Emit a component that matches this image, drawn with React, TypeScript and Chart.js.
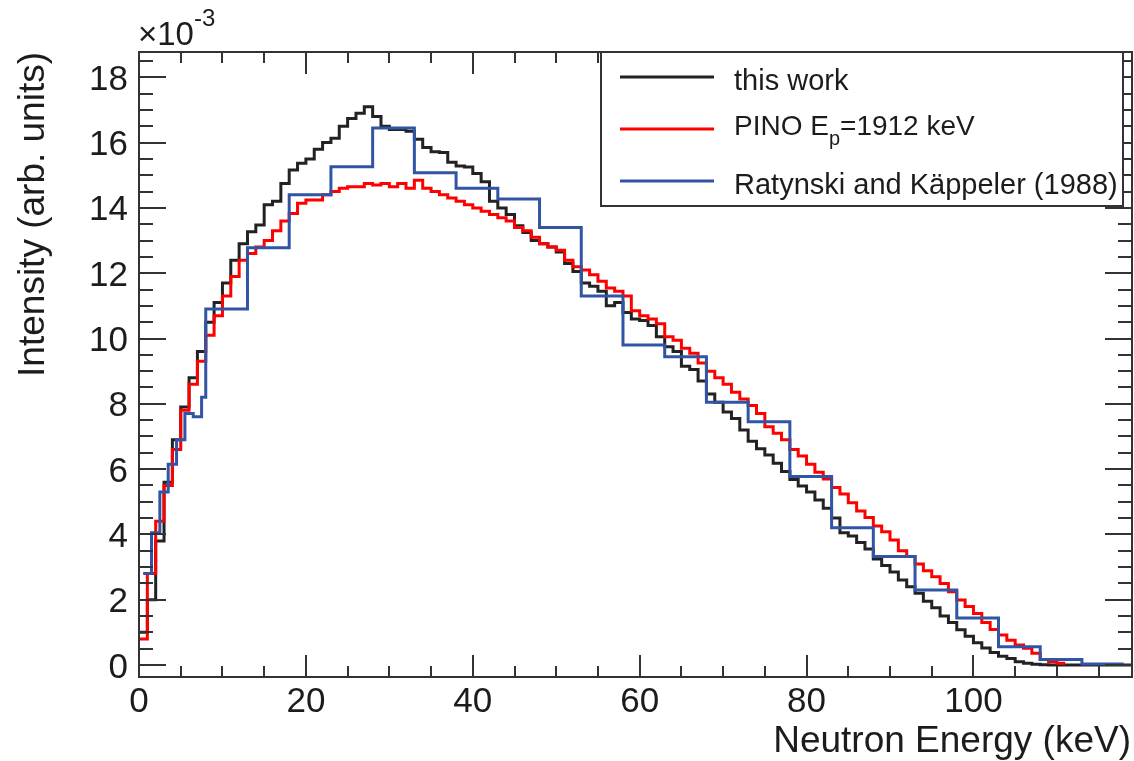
import React, { useEffect, useRef } from "react";
import { Chart, registerables } from "chart.js";

Chart.register(...registerables);

// ---------- data (×10^-3, arbitrary units) ----------
const binWidth = 1; // keV, for "this work" and PINO

const thisWorkValues = [
  1.0, 2.0, 3.8, 5.6, 6.9, 7.9, 8.8, 9.6, 10.5, 11.1,
  11.7, 12.4, 12.9, 13.27, 13.48, 14.1, 14.2, 14.75, 15.16, 15.37,
  15.5, 15.8, 16.0, 16.13, 16.5, 16.74, 16.9, 17.1, 16.8, 16.5,
  16.4, 16.4, 16.35, 16.1, 15.85, 15.72, 15.7, 15.4, 15.28, 15.25,
  15.05, 14.8, 14.2, 14.0, 13.8, 13.45, 13.25, 13.0, 12.9, 12.8,
  12.65, 12.3, 12.05, 11.7, 11.6, 11.45, 11.0, 11.1, 10.8, 10.6,
  10.55, 10.4, 10.05, 9.75, 9.6, 9.15, 9.05, 8.7, 8.3, 8.05,
  7.75, 7.55, 7.2, 6.85, 6.62, 6.43, 6.18, 5.93, 5.68, 5.48,
  5.3, 5.05, 4.8, 4.5, 4.05, 3.95, 3.75, 3.55, 3.25, 3.05,
  2.85, 2.6, 2.4, 2.2, 1.95, 1.75, 1.5, 1.3, 1.08, 0.88,
  0.68, 0.52, 0.38, 0.27, 0.2, 0.1, 0.05, 0.02, 0.01, 0,
  0, 0, 0, 0, 0, 0, 0, 0, 0,
];

const pinoValues = [
  0.8, 2.8, 4.4, 5.5, 6.6, 7.8, 8.6, 9.3, 10.1, 10.7,
  11.3, 11.9, 12.4, 12.6, 12.8, 13.0, 13.3, 13.6, 13.83, 14.14,
  14.24, 14.24, 14.4, 14.5, 14.6, 14.65, 14.65, 14.75, 14.7, 14.75,
  14.65, 14.75, 14.6, 14.85, 14.6, 14.5, 14.4, 14.3, 14.2, 14.1,
  14.0, 13.9, 13.8, 13.7, 13.6, 13.4, 13.3, 13.1, 12.9, 12.8,
  12.7, 12.4, 12.2, 12.1, 11.95, 11.75, 11.55, 11.45, 11.3, 10.85,
  10.7, 10.6, 10.45, 10.05, 9.95, 9.7, 9.55, 9.25, 9.0, 8.8,
  8.6, 8.35, 8.15, 7.95, 7.7, 7.3, 7.1, 6.9, 6.6, 6.4,
  6.15, 5.9, 5.7, 5.44, 5.24, 4.97, 4.72, 4.52, 4.26, 4.08,
  3.83, 3.5, 3.32, 3.09, 2.89, 2.7, 2.5, 2.24, 1.99, 1.79,
  1.58, 1.3, 1.09, 0.92, 0.76, 0.61, 0.51, 0.36, 0.17, 0.1,
  0.05,
];

const ratynskiEdges = [
  0.5, 1.5, 2.5, 3.5, 4.5, 5.5, 6.5, 7.5, 8,
  13, 18, 23, 28, 33, 38, 43, 48, 53, 58, 63, 68, 73, 78, 83, 88, 93, 98,
  103, 108, 113, 118,
];
const ratynskiValues = [
  2.8, 4.05, 5.3, 6.15, 6.9, 7.7, 7.6, 8.2,
  10.9, 12.78, 14.4, 15.26, 16.45, 15.08, 14.6, 14.27, 13.4, 11.3, 9.8, 9.44,
  8.05, 7.45, 5.77, 4.2, 3.32, 2.3, 1.44, 0.56, 0.17, 0.03,
];

const seriesLabels = ["this work", "PINO E", "Ratynski and Käppeler (1988)"];
const pinoSubscript = "p";
const pinoSuffix = "=1912 keV";

const xMajorTicks = [0, 20, 40, 60, 80, 100];
const xMinorStep = 5;
const yMajorTicks = [0, 2, 4, 6, 8, 10, 12, 14, 16, 18];
const yMinorStep = 0.5;
const xTitle = "Neutron Energy (keV)";
const yTitle = "Intensity (arb. units)";
const xMin = 0;
const xMax = 119;
const yMin = -0.3675;
const yMax = 18.775;

// ---------- styles ----------
const FONT = "'Liberation Sans', Arial, Helvetica, sans-serif";
const TEXT = "#1c1c1c";
const AXIS = "#333333";
const BLACK = "#222222";
const RED = "#ff0000";
const BLUE = "#3155a5";

function uniformPoints(values: number[], width: number) {
  const pts = values.map((v, i) => ({ x: i * width, y: v }));
  pts.push({ x: values.length * width, y: values[values.length - 1] });
  return pts;
}
function edgePoints(edges: number[], values: number[]) {
  const pts = values.map((v, i) => ({ x: edges[i], y: v }));
  pts.push({ x: edges[values.length], y: values[values.length - 1] });
  return pts;
}

const rootStyle = {
  id: "rootStyle",
  afterDatasetsDraw(chart: any) {
    const { ctx, chartArea: a, scales } = chart;
    const xs = scales.x;
    const ys = scales.y;
    ctx.save();
    ctx.strokeStyle = AXIS;
    ctx.lineWidth = 2;
    const seg = (x1: number, y1: number, x2: number, y2: number) => {
      ctx.beginPath();
      ctx.moveTo(x1, y1);
      ctx.lineTo(x2, y2);
      ctx.stroke();
    };
    // x ticks (bottom & top)
    for (let v = xMin; v <= xMax + 1e-9; v += xMinorStep) {
      const px = Math.round(xs.getPixelForValue(v));
      const len = xMajorTicks.includes(v) ? 22 : 11;
      seg(px, a.bottom, px, a.bottom - len);
      seg(px, a.top, px, a.top + len);
    }
    // y ticks (left & right)
    for (let v = 0; v <= yMax + 1e-9; v += yMinorStep) {
      const py = Math.round(ys.getPixelForValue(v));
      const major = yMajorTicks.includes(Math.round(v * 100) / 100);
      const len = major ? 27 : 14;
      seg(a.left, py, a.left + len, py);
      seg(a.right, py, a.right - len, py);
    }
    // frame
    ctx.strokeRect(a.left, a.top, a.right - a.left, a.bottom - a.top);

    // tick labels
    ctx.fillStyle = TEXT;
    ctx.font = `35px ${FONT}`;
    ctx.textBaseline = "alphabetic";
    ctx.textAlign = "right";
    for (const v of yMajorTicks) {
      const py = ys.getPixelForValue(v);
      ctx.fillText(String(v), a.left - 11, py + 12.5);
    }
    ctx.textAlign = "center";
    for (const v of xMajorTicks) {
      const px = xs.getPixelForValue(v);
      ctx.fillText(String(v), px, a.bottom + 35);
    }
    // exponent
    ctx.textAlign = "left";
    ctx.font = `33px ${FONT}`;
    ctx.fillText("×10", a.left - 1, 45);
    const w = ctx.measureText("×10").width;
    ctx.font = `24px ${FONT}`;
    ctx.fillText("-3", a.left - 1 + w, 26);

    // axis titles
    ctx.font = `37px ${FONT}`;
    ctx.textAlign = "right";
    ctx.fillText(xTitle, a.right - 1, 752);
    ctx.save();
    ctx.translate(44, a.top);
    ctx.rotate(-Math.PI / 2);
    ctx.textAlign = "right";
    ctx.fillText(yTitle, 0, 0);
    ctx.restore();

    // legend
    const lx1 = 601, ly1 = a.top, lx2 = 1123, ly2 = 206;
    ctx.fillStyle = "#ffffff";
    ctx.fillRect(lx1, ly1, lx2 - lx1, ly2 - ly1);
    ctx.strokeStyle = AXIS;
    ctx.lineWidth = 2;
    ctx.strokeRect(lx1, ly1, lx2 - lx1, ly2 - ly1);
    const rows = [77, 129, 181];
    const colors = [BLACK, RED, BLUE];
    ctx.lineWidth = 3;
    rows.forEach((ry, i) => {
      ctx.strokeStyle = colors[i];
      seg(620, ry, 714, ry);
    });
    ctx.fillStyle = TEXT;
    ctx.textAlign = "left";
    ctx.font = `29px ${FONT}`;
    ctx.fillText(seriesLabels[0], 734, rows[0] + 13);
    ctx.fillText(seriesLabels[2], 734, rows[2] + 13);
    ctx.font = `28px ${FONT}`;
    ctx.fillText(seriesLabels[1], 734, rows[1] + 6);
    let tx = 734 + ctx.measureText(seriesLabels[1]).width;
    ctx.font = `20px ${FONT}`;
    ctx.fillText(pinoSubscript, tx, rows[1] + 16);
    tx += ctx.measureText(pinoSubscript).width;
    ctx.font = `28px ${FONT}`;
    ctx.fillText(pinoSuffix, tx, rows[1] + 6);
    ctx.restore();
  },
};

export default function App() {
  const ref = useRef<HTMLCanvasElement | null>(null);
  useEffect(() => {
    if (!ref.current) return;
    const common = {
      stepped: true,
      fill: false,
      borderWidth: 3,
      pointRadius: 0,
      tension: 0,
      borderJoinStyle: "miter",
      borderCapStyle: "butt",
    };
    const chart = new Chart(ref.current, {
      type: "line",
      data: {
        datasets: [
          {
            ...common,
            label: seriesLabels[2],
            data: edgePoints(ratynskiEdges, ratynskiValues),
            borderColor: BLUE,
            order: 0,
          },
          {
            ...common,
            label: seriesLabels[1],
            data: uniformPoints(pinoValues, binWidth),
            borderColor: RED,
            order: 1,
          },
          {
            ...common,
            label: seriesLabels[0],
            data: uniformPoints(thisWorkValues, binWidth),
            borderColor: BLACK,
            order: 2,
          },
        ] as any,
      },
      options: {
        responsive: false,
        devicePixelRatio: 1,
        animation: false,
        layout: { padding: { left: 139, right: 2, top: 52, bottom: 84 } },
        plugins: { legend: { display: false }, tooltip: { enabled: false } },
        scales: {
          x: { type: "linear", min: xMin, max: xMax, display: false },
          y: { type: "linear", min: yMin, max: yMax, display: false },
        },
      },
      plugins: [rootStyle],
    });
    return () => chart.destroy();
  }, []);
  return (
    <div style={{ position: "absolute", left: 0, top: 0, width: 1134, height: 761, background: "#fff" }}>
      <canvas ref={ref} width={1134} height={761} style={{ display: "block", width: 1134, height: 761 }} />
    </div>
  );
}
